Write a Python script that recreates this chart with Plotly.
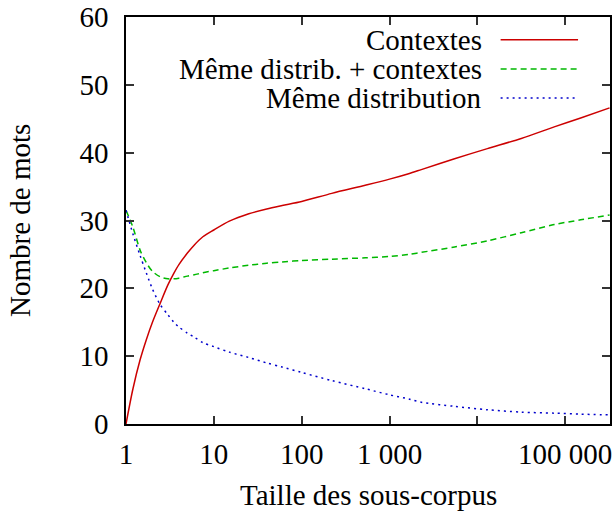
import plotly.graph_objects as go

# sub-corpus sizes (x) and word counts per method
taille = [1, 1.2, 1.45, 1.7, 2, 2.45, 3, 3.5, 4, 5, 6, 7.5, 10, 15, 25, 40, 60, 100,
          220, 530, 1000, 1650, 2300, 5500, 13000, 31600, 75000, 150000, 320000]
contextes = [0, 5.2, 9.5, 12.4, 15.0, 17.8, 20.5, 22.2, 23.5, 25.2, 26.4, 27.6, 28.6, 29.9,
             31.0, 31.7, 32.2, 32.8, 34.0, 35.2, 36.1, 36.9, 37.5, 39.1, 40.6, 42.1, 43.8,
             45.1, 46.6]
distrib_contextes = [31.5, 29.0, 25.6, 23.8, 22.5, 21.7, 21.4, 21.4, 21.5, 21.8, 22.0, 22.3,
                     22.6, 23.0, 23.4, 23.7, 23.9, 24.1, 24.3, 24.5, 24.7, 25.0, 25.3, 26.1,
                     27.0, 28.2, 29.4, 30.1, 30.8]
distribution = [31.5, 28.0, 24.8, 22.3, 19.9, 17.6, 16.1, 15.0, 14.3, 13.4, 12.8, 12.0, 11.4,
                10.6, 9.8, 9.0, 8.4, 7.6, 6.4, 5.2, 4.3, 3.7, 3.2, 2.6, 2.1, 1.75, 1.6, 1.45,
                1.35]

x_ticks = [1, 10, 100, 1000, 10000, 100000]
x_ticktext = ["1", "10", "100", "1 000", "", "100 000"]

series = [
    ("Contextes", contextes, "#cc0000", "solid"),
    ("Même distrib. + contextes", distrib_contextes, "#00b800", "6px,4px"),
    ("Même distribution", distribution, "#0000cc", "2px,4px"),
]

FONT = "Liberation Serif"
FS = 29
fig = go.Figure()

for name, vals, color, dash in series:
    fig.add_trace(go.Scatter(x=taille, y=vals, mode="lines", name=name,
                             line=dict(color=color, width=1.5, dash=dash, shape="spline", smoothing=0.8),
                             showlegend=False, hoverinfo="skip"))

# gnuplot-like key: text right-aligned, sample line on the right
key_y = [0.944, 0.872, 0.801]
for (name, vals, color, dash), ky in zip(series, key_y):
    fig.add_annotation(x=0.74, y=ky, xref="paper", yref="paper", text=name,
                       showarrow=False, xanchor="right", yanchor="middle",
                       font=dict(family=FONT, size=FS, color="black"))
    fig.add_shape(type="line", xref="paper", yref="paper", x0=0.774, x1=0.934, y0=ky, y1=ky,
                  line=dict(color=color, width=1.5, dash=dash))

fig.add_annotation(x=-0.22, y=0.5, xref="paper", yref="paper", text="Nombre de mots",
                   textangle=-90, showarrow=False, xanchor="center", yanchor="middle",
                   font=dict(family=FONT, size=FS, color="black"))
fig.add_annotation(x=0.502, y=-0.174, xref="paper", yref="paper", text="Taille des sous-corpus",
                   showarrow=False, xanchor="center", yanchor="middle",
                   font=dict(family=FONT, size=FS, color="black"))

fig.update_layout(
    width=613, height=514,
    margin=dict(l=126, r=1, t=16, b=90),
    paper_bgcolor="white", plot_bgcolor="white",
    font=dict(family=FONT, size=FS, color="black"),
)
fig.update_xaxes(type="log", range=[0, 5.51], tickvals=x_ticks, ticktext=x_ticktext,
                 ticks="inside", ticklen=8, tickwidth=1.5, tickcolor="#333",
                 showline=True, linecolor="black", linewidth=1.5, mirror="ticks",
                 showgrid=False, zeroline=False, ticklabelstandoff=3,
                 ticklabeloverflow="allow")
fig.update_yaxes(range=[0, 60], dtick=10, ticks="inside", ticklen=8, tickwidth=1.5,
                 tickcolor="#333", showline=True, linecolor="black", linewidth=1.5,
                 mirror="ticks", showgrid=False, zeroline=False, ticklabelstandoff=10,
                 ticklabeloverflow="allow")

fig.write_html("out.html", config={"displayModeBar": False},
               post_script="document.body.style.margin='0';document.body.style.overflow='hidden';")
